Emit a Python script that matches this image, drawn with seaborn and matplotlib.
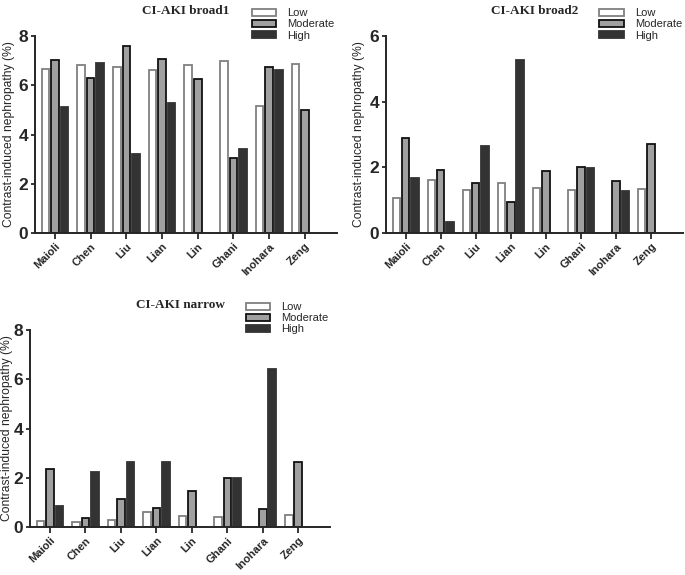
import matplotlib
matplotlib.use("Agg")
import matplotlib.pyplot as plt
import seaborn as sns
import numpy as np
import pandas as pd

studies = ["Maioli", "Chen", "Liu", "Lian", "Lin", "Ghani", "Inohara", "Zeng"]
levels = ["Low", "Moderate", "High"]

# CI-AKI broad1
broad1_low = [6.68, 6.81, 6.76, 6.64, 6.81, 7.0, 5.15, 6.85]
broad1_mod = [7.03, 6.31, 7.61, 7.08, 6.25, 3.03, 6.76, 5.0]
broad1_high = [5.13, 6.92, 3.22, 5.29, np.nan, 3.43, 6.61, np.nan]

# CI-AKI broad2
broad2_low = [1.07, 1.62, 1.30, 1.52, 1.37, 1.30, np.nan, 1.33]
broad2_mod = [2.90, 1.93, 1.52, 0.94, 1.90, 2.02, 1.57, 2.72]
broad2_high = [1.68, 0.34, 2.66, 5.27, np.nan, 1.97, 1.28, np.nan]

# CI-AKI narrow
narrow_low = [0.23, 0.19, 0.30, 0.62, 0.44, 0.42, np.nan, 0.48]
narrow_mod = [2.35, 0.37, 1.12, 0.77, 1.45, 2.00, 0.73, 2.66]
narrow_high = [0.84, 2.22, 2.64, 2.64, np.nan, 1.97, 6.40, np.nan]

fills = {"Low": "#ffffff", "Moderate": "#a0a0a0", "High": "#333333"}
edges = {"Low": "#808080", "Moderate": "#111111", "High": "#333333"}

sns.set_style("ticks")
plt.rcParams["font.family"] = ["Liberation Sans", "DejaVu Sans"]


def make_df(low, mod, high):
    rows = []
    for lvl, vals in zip(levels, [low, mod, high]):
        for s, v in zip(studies, vals):
            rows.append({"study": s, "level": lvl, "value": v})
    return pd.DataFrame(rows)


def draw_panel(ax, df, title, ymax, step, label_x):
    sns.barplot(data=df, x="study", y="value", hue="level", order=studies,
                hue_order=levels, palette=fills, width=0.8, gap=0.2,
                linewidth=1.3, errorbar=None, ax=ax)
    for cont, lvl in zip(ax.containers, levels):
        for bar in cont:
            bar.set_edgecolor(edges[lvl])
    ax.set_xlim(-0.56, 7.9)
    ax.set_ylim(0, ymax)
    ax.set_yticks(np.arange(0, ymax + 0.1, step))
    ax.set_xlabel("")
    ax.set_ylabel("Contrast-induced nephropathy (%)", fontsize=8.7)
    ax.yaxis.set_label_coords(label_x, 0.5)
    ax.tick_params(axis="y", labelsize=12.5, width=1.3, length=3, pad=2)
    ax.tick_params(axis="x", labelsize=8, width=1.3, length=4, pad=2)
    for lab in ax.get_yticklabels():
        lab.set_fontweight("bold")
    for lab in ax.get_xticklabels():
        lab.set_fontweight("bold")
        lab.set_rotation(45)
        lab.set_ha("right")
        lab.set_rotation_mode("anchor")
    for sp in ["left", "bottom"]:
        ax.spines[sp].set_linewidth(1.4)
    sns.despine(ax=ax)
    ax.set_title(title, family="Liberation Serif", fontweight="bold", fontsize=9.5, pad=16)
    leg = ax.legend(loc="upper left", bbox_to_anchor=(0.70, 1.17), frameon=False,
                    fontsize=8, handlelength=2.2, handleheight=0.55,
                    labelspacing=0.1, handletextpad=1.0, borderpad=0)
    for h, lvl in zip(leg.legend_handles, levels):
        h.set_edgecolor(edges[lvl])
        h.set_linewidth(1.3)


fig = plt.figure(figsize=(6.85, 5.75), dpi=100)
ax1 = fig.add_axes([0.051, 0.595, 0.441, 0.342])
ax2 = fig.add_axes([0.5635, 0.595, 0.433, 0.342])
ax3 = fig.add_axes([0.044, 0.0835, 0.438, 0.3425])

draw_panel(ax1, make_df(broad1_low, broad1_mod, broad1_high), "CI-AKI broad1", 8, 2, -0.066)
draw_panel(ax2, make_df(broad2_low, broad2_mod, broad2_high), "CI-AKI broad2", 6, 2, -0.07)
draw_panel(ax3, make_df(narrow_low, narrow_mod, narrow_high), "CI-AKI narrow", 8, 2, -0.057)

fig.savefig("out.png", dpi=100)
